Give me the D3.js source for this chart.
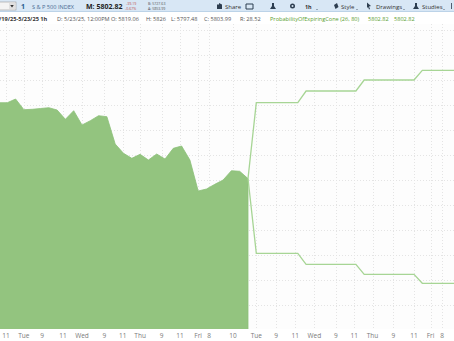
<!DOCTYPE html>
<html>
<head>
<meta charset="utf-8">
<script src="https://cdn.jsdelivr.net/npm/d3@7"></script>
<style>
  body { margin: 0; background: #fff; }
  svg { display: block; font-family: "Open Sans", sans-serif; }
</style>
</head>
<body>
<div id="chart"></div>
<script>
// chart size
const width = 454;
const height = 341;

// hourly closes, S&P 500 (bar index 0..30)
const closes = [5954.6, 5954.6, 5962, 5940.6, 5941.4, 5943, 5944.6, 5940, 5921.4, 5938.6,
  5910, 5918.6, 5928.6, 5926.6, 5872, 5853.4, 5843.4, 5851.4, 5840, 5852,
  5842, 5863.4, 5868, 5840, 5778, 5782, 5791.4, 5800, 5818.6, 5817.4, 5802.82];

// expiring cone (bar index, upper, lower)
const coneBars = [30, 31, 36, 37, 43, 44, 50, 51, 56];
const coneUpper = [5802.82, 5954.6, 5954.6, 5978, 5978, 6000, 6000, 6019.4, 6019.4];
const coneLower = [5802.82, 5653.4, 5653.4, 5631.4, 5631.4, 5611.4, 5611.4, 5593.4, 5593.4];

// time axis labels and their bar positions
const tickLabels = ["11", "Tue", "9", "11", "Wed", "9", "11", "Thu", "9", "11", "Fri", "8", "10",
  "Tue", "9", "11", "Wed", "9", "11", "Thu", "9", "11", "Fri", "8"];
const tickBars = [0.85, 3, 5.2, 7.7, 10, 12.7, 14.9, 17, 19.6, 21.8, 24, 25.3, 28.2,
  31, 33.4, 35.7, 38, 40.6, 42.8, 45, 47.5, 50, 52, 53.4];

// price gridlines
const priceGrid = d3.range(5550, 6101, 50);

const svg = d3.select("#chart")
  .append("svg")
  .attr("width", width)
  .attr("height", height);

const x = d3.scaleLinear()
  .domain([0, 30])
  .range([-1, 248]);

const y = d3.scaleLinear()
  .domain([5500, 6100])
  .range([330, 30]);

const plotTop = 24;
const plotBottom = 329;

// plot background
svg.append("rect")
  .attr("x", 0).attr("y", plotTop)
  .attr("width", width).attr("height", plotBottom - plotTop)
  .attr("fill", "#fdfdfd");

// gridlines
svg.append("g")
  .selectAll("line")
  .data(priceGrid)
  .join("line")
  .attr("x1", 0).attr("x2", width)
  .attr("y1", d => y(d) + 0.5).attr("y2", d => y(d) + 0.5)
  .attr("stroke", "#e4e4e4")
  .attr("stroke-dasharray", "1,2");

svg.append("g")
  .selectAll("line")
  .data(tickBars)
  .join("line")
  .attr("x1", d => Math.round(x(d)) + 0.5).attr("x2", d => Math.round(x(d)) + 0.5)
  .attr("y1", plotTop).attr("y2", plotBottom)
  .attr("stroke", "#e4e4e4")
  .attr("stroke-dasharray", "1,2");

// price area
const area = d3.area()
  .x((d, i) => x(i))
  .y0(plotBottom + 1)
  .y1(d => y(d));

svg.append("path")
  .datum(closes)
  .attr("d", area)
  .attr("fill", "#93c47f")
  .attr("stroke", "#8cc078")
  .attr("stroke-width", 0.8);

// cone lines
const coneLine = d3.line()
  .x((d, i) => x(coneBars[i]))
  .y(d => y(d));

[coneUpper, coneLower].forEach(series => {
  svg.append("path")
    .datum(series)
    .attr("d", coneLine)
    .attr("fill", "none")
    .attr("stroke", "#a7d595")
    .attr("stroke-width", 1.3);
});

// time axis
svg.append("rect")
  .attr("x", 0).attr("y", plotBottom)
  .attr("width", width).attr("height", height - plotBottom)
  .attr("fill", "#fff");

svg.append("g")
  .selectAll("text")
  .data(tickLabels)
  .join("text")
  .attr("x", (d, i) => x(tickBars[i]))
  .attr("y", 337.5)
  .attr("text-anchor", "middle")
  .attr("font-size", 6.5)
  .attr("fill", "#7a7a7a")
  .text(d => d);

// toolbar
const bar = svg.append("g");
bar.append("rect")
  .attr("x", 0).attr("y", 0).attr("width", width).attr("height", 12)
  .attr("fill", "#d8e7f5");
bar.append("line")
  .attr("x1", 0).attr("x2", width).attr("y1", 11.5).attr("y2", 11.5)
  .attr("stroke", "#bcd3e8");

// symbol box
bar.append("rect")
  .attr("x", -2).attr("y", 2).attr("width", 18).attr("height", 8)
  .attr("fill", "#f4f4f4").attr("stroke", "#999").attr("stroke-width", 0.6);
bar.append("rect")
  .attr("x", 9).attr("y", 3).attr("width", 6).attr("height", 6)
  .attr("fill", "#e0e0e0");
bar.append("path")
  .attr("d", "M10.2,5 L13.8,5 L12,7.4 Z")
  .attr("fill", "#333");

const toolText = [
  { t: "1", x: 21, size: 7, weight: "bold", fill: "#2b5c8f" },
  { t: "S & P 500 INDEX", x: 32, size: 5.6, weight: "normal", fill: "#4a6d93" },
  { t: "M: 5802.82", x: 86, size: 7, weight: "bold", fill: "#222" },
  { t: "Share", x: 225, size: 6, weight: "normal", fill: "#333" },
  { t: "1h", x: 305, size: 5.4, weight: "bold", fill: "#333" },
  { t: "Style", x: 341, size: 6, weight: "normal", fill: "#333" },
  { t: "Drawings", x: 376, size: 6, weight: "normal", fill: "#333" },
  { t: "Studies", x: 422, size: 6, weight: "normal", fill: "#333" }
];
bar.selectAll("text.tool")
  .data(toolText)
  .join("text")
  .attr("class", "tool")
  .attr("x", d => d.x).attr("y", 8.6)
  .attr("font-size", d => d.size)
  .attr("font-weight", d => d.weight)
  .attr("fill", d => d.fill)
  .text(d => d.t);

// tiny change / bid-ask text
const tiny = [
  { t: "-39.19", x: 126, y: 5, fill: "#c0504d" },
  { t: "-0.67%", x: 125, y: 9.5, fill: "#c0504d" },
  { t: "B: 5727.63", x: 148, y: 5, fill: "#555" },
  { t: "A: 5853.99", x: 148, y: 9.5, fill: "#555" }
];
bar.selectAll("text.tiny")
  .data(tiny)
  .join("text")
  .attr("class", "tiny")
  .attr("x", d => d.x).attr("y", d => d.y)
  .attr("font-size", 3.6)
  .attr("fill", d => d.fill)
  .text(d => d.t);

// little toolbar icons
const icons = bar.append("g").attr("fill", "#2d3e50");
icons.append("path").attr("d", "M217,4.5 h5 v4.5 h-5 Z M219,3 l3,1.6 l-3,1.6 Z");
icons.append("path").attr("d", "M246,4 h7 v5 h-7 Z").attr("fill", "none").attr("stroke", "#2d3e50").attr("stroke-width", 1);
icons.append("path").attr("d", "M272,3 h2 v3 l2,3 h-6 l2,-3 Z");
icons.append("circle").attr("cx", 292.5).attr("cy", 6).attr("r", 2.5);
icons.append("circle").attr("cx", 292.5).attr("cy", 6).attr("r", 1).attr("fill", "#d8e7f5");
icons.append("path").attr("d", "M334,5 l3,-2 l1.5,4 l-3,2 Z");
icons.append("path").attr("d", "M367,2.5 l4,3.5 l-2,0.4 l1,2.6 l-1,0.4 l-1,-2.6 l-1,1.5 Z");
icons.append("path").attr("d", "M415,3 h2 v3 l2,3 h-6 l2,-3 Z");
[317, 357, 404, 444].forEach(px => {
  icons.append("circle").attr("cx", px).attr("cy", 9.5).attr("r", 0.5);
});
icons.append("rect").attr("x", 451).attr("y", 3).attr("width", 0.8).attr("height", 6);

// info row
const info = svg.append("g");
info.append("rect")
  .attr("x", 0).attr("y", 12).attr("width", width).attr("height", 12)
  .attr("fill", "#fff");

const infoText = [
  { t: "/19/25-5/23/25 1h", x: -1, weight: "bold", fill: "#333" },
  { t: "D: 5/23/25, 12:00PM", x: 57, weight: "normal", fill: "#555" },
  { t: "O: 5819.06", x: 111, weight: "normal", fill: "#555" },
  { t: "H: 5826", x: 146, weight: "normal", fill: "#555" },
  { t: "L: 5797.48", x: 171, weight: "normal", fill: "#555" },
  { t: "C: 5803.99", x: 204, weight: "normal", fill: "#555" },
  { t: "R: 28.52", x: 240, weight: "normal", fill: "#555" },
  { t: "ProbabilityOfExpiringCone (26, 80)", x: 270, weight: "normal", fill: "#5a9e2f" },
  { t: "5802.82", x: 368, weight: "normal", fill: "#5a9e2f" },
  { t: "5802.82", x: 394, weight: "normal", fill: "#5a9e2f" }
];
info.selectAll("text")
  .data(infoText)
  .join("text")
  .attr("x", d => d.x).attr("y", 20.8)
  .attr("font-size", 5.6)
  .attr("font-weight", d => d.weight)
  .attr("fill", d => d.fill)
  .text(d => d.t);
</script>
</body>
</html>
